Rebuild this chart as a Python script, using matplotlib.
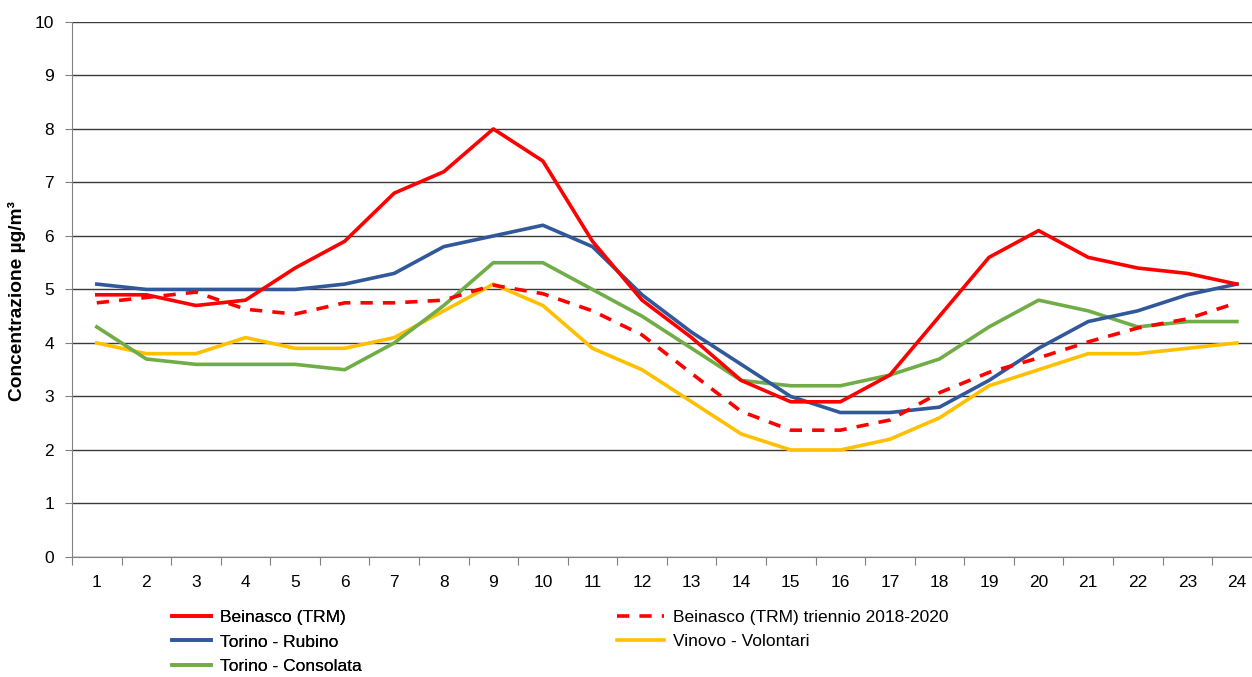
import matplotlib
matplotlib.use('Agg')
import matplotlib.pyplot as plt
import numpy as np

plt.rcParams['font.family'] = ['Liberation Sans', 'DejaVu Sans']

# ore del giorno
ore = list(range(1, 25))

beinasco = [4.9, 4.9, 4.7, 4.8, 5.4, 5.9, 6.8, 7.2, 8.0, 7.4, 5.9, 4.8,
            4.1, 3.3, 2.9, 2.9, 3.4, 4.5, 5.6, 6.1, 5.6, 5.4, 5.3, 5.1]
beinasco_triennio = [4.75, 4.85, 4.95, 4.63, 4.54, 4.75, 4.75, 4.8, 5.08, 4.92, 4.6, 4.15,
                     3.43, 2.72, 2.37, 2.37, 2.56, 3.07, 3.45, 3.72, 4.02, 4.28, 4.45, 4.75]
torino_rubino = [5.1, 5.0, 5.0, 5.0, 5.0, 5.1, 5.3, 5.8, 6.0, 6.2, 5.8, 4.9,
                 4.2, 3.6, 3.0, 2.7, 2.7, 2.8, 3.3, 3.9, 4.4, 4.6, 4.9, 5.1]
vinovo = [4.0, 3.8, 3.8, 4.1, 3.9, 3.9, 4.1, 4.6, 5.1, 4.7, 3.9, 3.5,
          2.9, 2.3, 2.0, 2.0, 2.2, 2.6, 3.2, 3.5, 3.8, 3.8, 3.9, 4.0]
torino_consolata = [4.3, 3.7, 3.6, 3.6, 3.6, 3.5, 4.0, 4.7, 5.5, 5.5, 5.0, 4.5,
                    3.9, 3.3, 3.2, 3.2, 3.4, 3.7, 4.3, 4.8, 4.6, 4.3, 4.4, 4.4]

fig = plt.figure(figsize=(12.52, 6.77), dpi=100)
ax = fig.add_axes([0.0575, 0.1773, 0.9502, 0.7903])

lw = 2.6
l1, = ax.plot(ore, beinasco, color='#FF0000', lw=lw, label='Beinasco (TRM)', zorder=5)
l2, = ax.plot(ore, beinasco_triennio, color='#FF0000', lw=lw, ls=(0, (3.4, 2.8)),
              dash_capstyle='butt', label='Beinasco (TRM) triennio 2018-2020', zorder=6)
l3, = ax.plot(ore, torino_rubino, color='#30589A', lw=lw, label='Torino - Rubino', zorder=4)
l4, = ax.plot(ore, vinovo, color='#FFC000', lw=lw, label='Vinovo - Volontari', zorder=2)
l5, = ax.plot(ore, torino_consolata, color='#70AD47', lw=lw, label='Torino - Consolata', zorder=3)

ax.set_xlim(0.5, 24.5)
ax.set_ylim(0, 10)
ax.set_yticks(range(0, 11))
ax.yaxis.grid(True, color='#3a3a3a', lw=1)
ax.set_axisbelow(True)

# tacche tra le categorie, etichette al centro
ax.set_xticks(np.arange(0.5, 25, 1))
ax.set_xticklabels([])
ax.set_xticks(ore, minor=True)
ax.set_xticklabels([str(h) for h in ore], minor=True)
ax.tick_params(axis='x', which='major', length=6, color='#808080', direction='out')
ax.tick_params(axis='x', which='minor', length=0, pad=13, labelsize=12.5)
ax.tick_params(axis='y', length=5, color='#808080', direction='out', pad=8, labelsize=12.5)

for s in ['top', 'right']:
    ax.spines[s].set_visible(False)
ax.spines['left'].set_color('#808080')
ax.spines['bottom'].set_color('#808080')

ax.set_ylabel('Concentrazione µg/m³', fontsize=13.8, fontweight='bold')
ax.yaxis.set_label_coords(-0.0385, 0.4785)

leg_kw = dict(frameon=False, fontsize=12.5, loc='center left', handletextpad=0.52,
              labelspacing=0.56, borderaxespad=0, borderpad=0)
leg1 = fig.legend(handles=[l1, l3, l5], bbox_to_anchor=(0.1374, 0.0517),
                  handlelength=2.25, **leg_kw)
fig.add_artist(leg1)
fig.legend(handles=[l2, l4], bbox_to_anchor=(0.4928, 0.0702),
           handlelength=2.7, **leg_kw)

fig.savefig('out.png', dpi=100)
